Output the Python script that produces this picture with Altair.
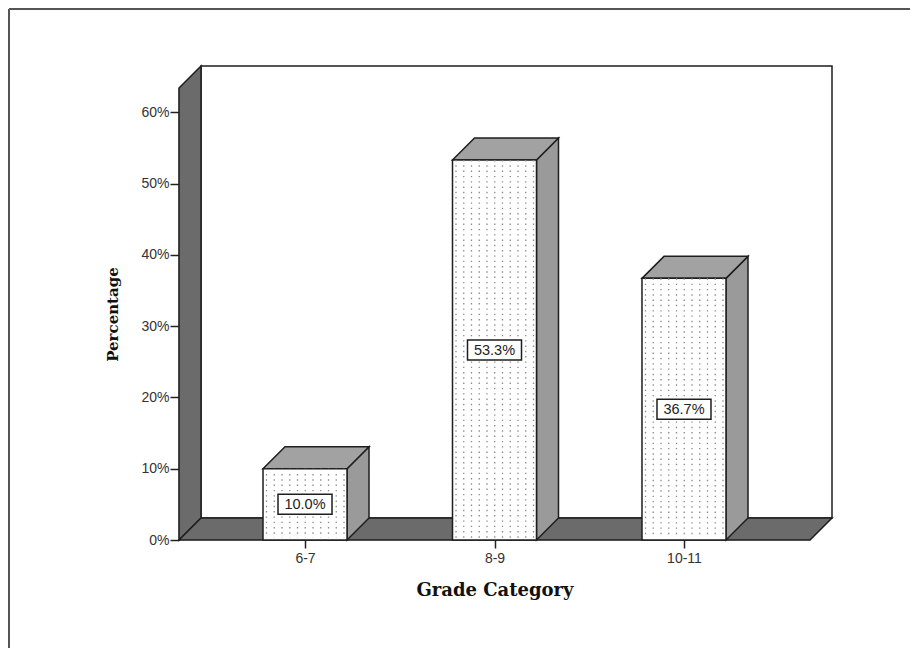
import altair as alt
import pandas as pd

# ---- data ----
categories = ["6-7", "8-9", "10-11"]
percentages = [10.0, 53.3, 36.7]
y_ticks = [0, 10, 20, 30, 40, 50, 60]

# ---- geometry / style constants ----
PLOT_W, PLOT_H = 631, 452
X_DOMAIN = [-0.665, 2.665]
Y_DOMAIN = [0, 63.4]
PX_X = PLOT_W / (X_DOMAIN[1] - X_DOMAIN[0])
PX_Y = PLOT_H / (Y_DOMAIN[1] - Y_DOMAIN[0])
DEPTH = 22
DX = DEPTH / PX_X
DY = DEPTH / PX_Y
HW = 42 / PX_X          # half bar width
BOX_HW = 27 / PX_X      # label box half width
BOX_HH = 10 / PX_Y      # label box half height

WALL = "#6b6b6b"
SIDE = "#9a9a9a"
TOP = "#a2a2a2"
EDGE = "#1e1e1e"

xs = alt.Scale(domain=X_DOMAIN, nice=False, zero=False)
ys = alt.Scale(domain=Y_DOMAIN, nice=False, zero=False)
label_expr = "[" + ",".join("'%s'" % c for c in categories) + "][datum.value]"
x_axis = alt.Axis(values=list(range(len(categories))), labelExpr=label_expr,
                  title="Grade Category", domain=False, grid=False,
                  tickSize=8, tickColor="#222", tickWidth=1.5,
                  labelFont="Liberation Sans", labelFontSize=14, labelColor="#333",
                  labelPadding=3, titleFont="DejaVu Serif", titleFontSize=18,
                  titleFontWeight="bold", titleColor="#111", titlePadding=16)
y_axis = alt.Axis(values=y_ticks, labelExpr="datum.value + '%'", title="Percentage",
                  domain=True, domainColor="#222", domainWidth=1.5, grid=False,
                  tickSize=9, tickColor="#222", tickWidth=1.5,
                  labelFont="Liberation Sans", labelFontSize=14, labelColor="#333",
                  labelPadding=1, titleFont="DejaVu Serif", titleFontSize=15,
                  titleFontWeight="bold", titleColor="#111", titlePadding=20)

def X(f):
    return alt.X(f, type="quantitative", scale=xs, axis=x_axis)

def Y(f):
    return alt.Y(f, type="quantitative", scale=ys, axis=y_axis)

# ---- frame (decoration) ----
frame_top = alt.Chart(pd.DataFrame({"a": [0]})).mark_rule(color="#555", strokeWidth=2).encode(
    x=alt.value(-170), x2=alt.value(731), y=alt.value(-79))
frame_left = alt.Chart(pd.DataFrame({"a": [0]})).mark_rule(color="#555", strokeWidth=2).encode(
    x=alt.value(-170), y=alt.value(-79), y2=alt.value(560))

# ---- back wall ----
back_df = pd.DataFrame({"x": [X_DOMAIN[0] + DX], "x2": [X_DOMAIN[1] + DX],
                        "y": [Y_DOMAIN[0] + DY], "y2": [Y_DOMAIN[1] + DY]})
back = alt.Chart(back_df).mark_rect(fill="white", stroke=EDGE, strokeWidth=1.5).encode(
    x=X("x"), x2="x2", y=Y("y"), y2="y2")

# ---- left wall ----
lw_df = pd.DataFrame({"x": [X_DOMAIN[0], X_DOMAIN[0] + DX],
                      "top": [Y_DOMAIN[1], Y_DOMAIN[1] + DY],
                      "bot": [Y_DOMAIN[0], Y_DOMAIN[0] + DY]})
left_wall = alt.Chart(lw_df).mark_area(orient="vertical", fill=WALL, stroke=EDGE,
                                       strokeWidth=1.5, opacity=1).encode(
    x=X("x"), y=Y("top"), y2="bot")

# ---- floor ----
fl_df = pd.DataFrame({"y": [Y_DOMAIN[0], Y_DOMAIN[0] + DY],
                      "xl": [X_DOMAIN[0], X_DOMAIN[0] + DX],
                      "xr": [X_DOMAIN[1], X_DOMAIN[1] + DX]})
floor = alt.Chart(fl_df).mark_area(orient="horizontal", fill=WALL, stroke=EDGE,
                                   strokeWidth=1.5, opacity=1).encode(
    y=Y("y"), x=X("xl"), x2="xr")

# ---- bars ----
rows_side, rows_top, rows_front, rows_dots = [], [], [], []
for i, (c, v) in enumerate(zip(categories, percentages)):
    rows_side += [{"cat": c, "x": i + HW, "top": v, "bot": 0},
                  {"cat": c, "x": i + HW + DX, "top": v + DY, "bot": DY}]
    rows_top += [{"cat": c, "y": v, "xl": i - HW, "xr": i + HW},
                 {"cat": c, "y": v + DY, "xl": i - HW + DX, "xr": i + HW + DX}]
    rows_front.append({"cat": c, "xl": i - HW, "xr": i + HW, "v": v, "mid": v / 2,
                       "i": i, "lab": "%.1f%%" % v,
                       "bl": i - BOX_HW, "br": i + BOX_HW,
                       "bb": v / 2 - BOX_HH, "bt": v / 2 + BOX_HH})
    for k in range(11):
        rows_dots.append({"x": i - HW + (3.5 + 7.75 * k) / PX_X, "v": v})

side = alt.Chart(pd.DataFrame(rows_side)).mark_area(orient="vertical", fill=SIDE, stroke=EDGE,
                                                    strokeWidth=1.5, opacity=1).encode(
    x=X("x"), y=Y("top"), y2="bot", detail="cat:N")
top = alt.Chart(pd.DataFrame(rows_top)).mark_area(orient="horizontal", fill=TOP, stroke=EDGE,
                                                  strokeWidth=1.5, opacity=1).encode(
    y=Y("y"), x=X("xl"), x2="xr", detail="cat:N")
front_df = pd.DataFrame(rows_front)
front = alt.Chart(front_df).mark_rect(fill="white", stroke=EDGE, strokeWidth=1.5).encode(
    x=X("xl"), x2="xr", y=Y("v"), y2=alt.datum(0))
dots = alt.Chart(pd.DataFrame(rows_dots)).mark_rule(color="#8a8a8a", strokeWidth=1.3,
                                                    strokeDash=[1.4, 3.9]).encode(
    x=X("x"), y=Y("v"), y2=alt.datum(0.3))
boxes = alt.Chart(front_df).mark_rect(fill="white", stroke=EDGE, strokeWidth=1.5).encode(
    x=X("bl"), x2="br", y=Y("bb"), y2="bt")
labels = alt.Chart(front_df).mark_text(font="Liberation Sans", fontSize=14.5, color="#222",
                                       baseline="middle", dy=1).encode(
    x=X("i"), y=Y("mid"), text="lab:N")

chart = alt.layer(frame_top, frame_left, back, left_wall, floor,
                  side, top, front, dots, boxes, labels).properties(
    width=PLOT_W, height=PLOT_H,
    autosize=alt.AutoSizeParams(type="none"),
    padding={"left": 171, "top": 80, "right": 100, "bottom": 112},
).configure_view(stroke=None).configure(background="white")

chart.save("out.html", embed_options={"renderer": "svg", "actions": False})
